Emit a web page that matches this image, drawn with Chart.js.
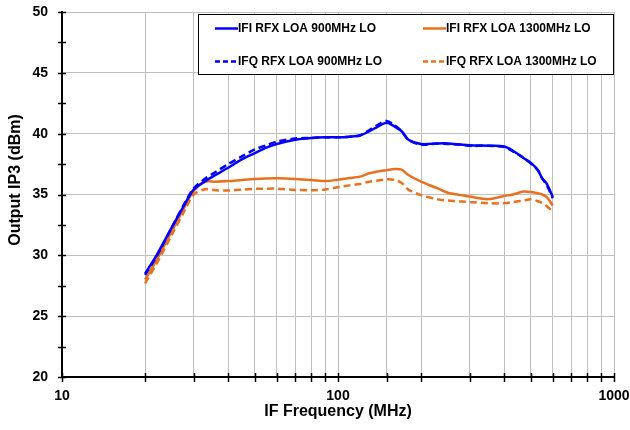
<!DOCTYPE html>
<html>
<head>
<meta charset="utf-8">
<script src="https://cdn.jsdelivr.net/npm/chart.js@4/dist/chart.umd.min.js"></script>
<style>
  html, body { margin: 0; padding: 0; background: #fff; }
  #wrap { width: 630px; height: 430px; }
</style>
</head>
<body>
<div id="wrap"><canvas id="chart"></canvas></div>
<script>
// datos
const freqs = [20, 22, 25, 28, 30, 33, 36, 40, 45, 50, 55, 60, 70, 80, 90, 100, 110, 120, 130, 140, 150, 160, 170, 180, 200, 230, 250, 280, 300, 350, 400, 430, 470, 500, 530, 550, 570, 600];

const ifi900 = [28.5, 30.0, 32.3, 34.3, 35.4, 36.1, 36.6, 37.2, 37.9, 38.4, 38.85, 39.15, 39.5, 39.65, 39.7, 39.7, 39.75, 39.85, 40.2, 40.6, 40.9, 40.6, 40.2, 39.5, 39.15, 39.2, 39.2, 39.1, 39.05, 39.0, 38.95, 38.6, 38.0, 37.6, 37.0, 36.3, 35.9, 34.8];
const ifq900 = [28.4, 29.9, 32.3, 34.4, 35.5, 36.3, 36.85, 37.5, 38.15, 38.7, 39.05, 39.35, 39.6, 39.65, 39.7, 39.7, 39.75, 39.85, 40.3, 40.75, 41.05, 40.7, 40.2, 39.5, 39.1, 39.2, 39.15, 39.1, 39.0, 39.0, 38.9, 38.55, 38.0, 37.55, 37.0, 36.3, 35.8, 34.7];
const ifi1300 = [28.0, 29.6, 32.0, 34.1, 35.3, 36.05, 36.05, 36.1, 36.2, 36.28, 36.32, 36.33, 36.28, 36.2, 36.1, 36.22, 36.35, 36.47, 36.75, 36.9, 37.0, 37.1, 37.05, 36.6, 36.05, 35.5, 35.15, 34.95, 34.83, 34.62, 34.88, 35.0, 35.24, 35.2, 35.1, 35.0, 34.8, 34.1];
const ifq1300 = [27.7, 29.3, 31.7, 33.8, 35.0, 35.43, 35.35, 35.33, 35.4, 35.46, 35.48, 35.48, 35.38, 35.35, 35.42, 35.6, 35.75, 35.87, 36.05, 36.15, 36.25, 36.2, 35.95, 35.4, 34.95, 34.6, 34.5, 34.42, 34.39, 34.28, 34.28, 34.38, 34.5, 34.6, 34.45, 34.3, 34.05, 33.6];

const seriesLabels = ['IFI RFX LOA 900MHz LO', 'IFQ RFX LOA 900MHz LO', 'IFI RFX LOA 1300MHz LO', 'IFQ RFX LOA 1300MHz LO'];
const xTickLabels = [10, 100, 1000];
const yMinorStep = 2.5;
const yTitle = 'Output IP3 (dBm)';
const xTitle = 'IF Frequency (MHz)';

const BLUE = '#0000ff';
const ORANGE = '#e8711f';
const FONT = "'Liberation Sans', Arial, sans-serif";

function toPoints(ys) {
    return freqs.map((f, i) => ({ x: f, y: ys[i] }));
}

function makeDataset(label, ys, color, dashed) {
    return {
        label: label,
        data: toPoints(ys),
        borderColor: color,
        backgroundColor: color,
        borderWidth: 2.5,
        borderDash: dashed ? [7, 4] : [],
        pointRadius: 0,
        tension: 0.3,
        fill: false
    };
}

// marcas de los ejes (cruzan la linea del eje) y titulo vertical
const axisTicks = {
    id: 'axisTicks',
    afterDraw(chart) {
        const { ctx, chartArea, scales } = chart;
        ctx.save();
        ctx.strokeStyle = '#000';
        ctx.lineWidth = 1.5;
        for (let v = scales.y.min; v <= scales.y.max + 0.001; v += yMinorStep) {
            const py = Math.round(scales.y.getPixelForValue(v)) + 0.5;
            ctx.beginPath();
            ctx.moveTo(chartArea.left - 4, py);
            ctx.lineTo(chartArea.left + 4, py);
            ctx.stroke();
        }
        scales.x.ticks.forEach(t => {
            const px = Math.round(scales.x.getPixelForValue(t.value)) + 0.5;
            ctx.beginPath();
            ctx.moveTo(px, chartArea.bottom - 4);
            ctx.lineTo(px, chartArea.bottom + 5);
            ctx.stroke();
        });

        // titulo del eje Y (algo por encima del centro, como en el original)
        ctx.translate(16, 180);
        ctx.rotate(-Math.PI / 2);
        ctx.font = 'bold 16px ' + FONT;
        ctx.fillStyle = '#000';
        ctx.textAlign = 'center';
        ctx.textBaseline = 'middle';
        ctx.fillText(yTitle, 0, 0);
        ctx.restore();
    }
};

// leyenda en recuadro, dos columnas
const boxLegend = {
    id: 'boxLegend',
    afterDatasetsDraw(chart) {
        const { ctx } = chart;
        const box = { x: 198.5, y: 14.5, w: 415, h: 60 };
        ctx.save();
        ctx.fillStyle = '#fff';
        ctx.fillRect(box.x, box.y, box.w, box.h);
        ctx.strokeStyle = '#000';
        ctx.lineWidth = 1;
        ctx.strokeRect(box.x, box.y, box.w, box.h);

        const slots = [
            { col: 215, row: 28.5 },
            { col: 215, row: 61.5 },
            { col: 423, row: 28.5 },
            { col: 423, row: 61.5 }
        ];
        ctx.font = 'bold 12px ' + FONT;
        ctx.textBaseline = 'middle';
        ctx.textAlign = 'left';
        chart.data.datasets.forEach((ds, i) => {
            const s = slots[i];
            ctx.strokeStyle = ds.borderColor;
            ctx.lineWidth = 2.5;
            ctx.setLineDash(ds.borderDash.length ? [5, 3] : []);
            ctx.beginPath();
            ctx.moveTo(s.col, s.row);
            ctx.lineTo(s.col + 23, s.row);
            ctx.stroke();
            ctx.setLineDash([]);
            ctx.fillStyle = '#000';
            ctx.fillText(ds.label, s.col + 23, s.row + 0.5);
        });
        ctx.restore();
    }
};

new Chart(document.getElementById('chart'), {
    type: 'line',
    data: {
        datasets: [
            makeDataset(seriesLabels[0], ifi900, BLUE, false),
            makeDataset(seriesLabels[1], ifq900, BLUE, true),
            makeDataset(seriesLabels[2], ifi1300, ORANGE, false),
            makeDataset(seriesLabels[3], ifq1300, ORANGE, true)
        ]
    },
    options: {
        responsive: true,
        maintainAspectRatio: false,
        animation: false,
        layout: { padding: { top: 12, right: 16, left: 0, bottom: 0 } },
        plugins: {
            legend: { display: false },
            tooltip: { enabled: false }
        },
        scales: {
            x: {
                type: 'logarithmic',
                min: 10,
                max: 1000,
                afterFit(scale) {
                    scale.height = 53;
                    scale.paddingLeft = 0;
                    scale.paddingRight = 0;
                },
                grid: { color: '#c0c0c0', lineWidth: 1, drawTicks: false },
                border: { color: '#000', width: 2 },
                ticks: {
                    autoSkip: false,
                    maxRotation: 0,
                    padding: 11,
                    color: '#000',
                    font: { family: FONT, size: 14, weight: 'bold' },
                    callback: (v) => xTickLabels.includes(v) ? String(v) : ''
                },
                title: {
                    display: true,
                    text: xTitle,
                    color: '#000',
                    font: { family: FONT, size: 16, weight: 'bold' },
                    padding: { top: 0, bottom: 9 }
                }
            },
            y: {
                min: 20,
                max: 50,
                afterFit(scale) {
                    scale.width = 62;
                    scale.paddingTop = 0;
                    scale.paddingBottom = 0;
                },
                grid: { color: '#c0c0c0', lineWidth: 1, drawTicks: false },
                border: { color: '#000', width: 2 },
                ticks: {
                    stepSize: 5,
                    padding: 14,
                    color: '#000',
                    font: { family: FONT, size: 14, weight: 'bold' }
                }
            }
        }
    },
    plugins: [axisTicks, boxLegend]
});
</script>
</body>
</html>
